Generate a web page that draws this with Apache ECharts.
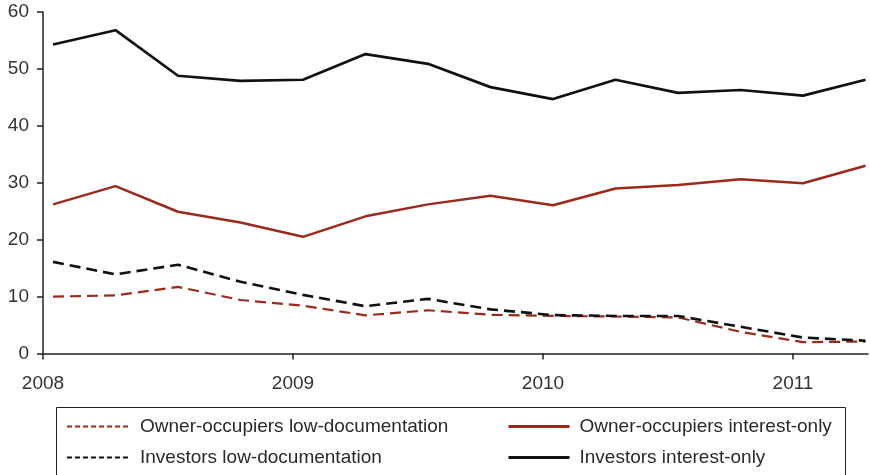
<!DOCTYPE html>
<html>
<head>
<meta charset="utf-8">
<script src="https://cdn.jsdelivr.net/npm/echarts@6/dist/echarts.min.js"></script>
<style>html,body{margin:0;padding:0;background:#fff}#c{width:870px;height:475px}</style>
</head>
<body>
<div id="c"></div>
<script>
// quarterly observation dates (decimal years)
var xYears = [2008.04, 2008.29, 2008.54, 2008.79, 2009.04, 2009.29, 2009.54, 2009.79, 2010.04, 2010.29, 2010.54, 2010.79, 2011.04, 2011.29];
var yearTicks = [2008, 2009, 2010, 2011];
var ownerLowDoc = [10.0, 10.2, 11.7, 9.4, 8.4, 6.7, 7.6, 6.8, 6.6, 6.5, 6.35, 3.8, 2.0, 2.1];
var ownerIO = [26.2, 29.4, 24.9, 23.0, 20.5, 24.1, 26.2, 27.7, 26.05, 29.0, 29.6, 30.6, 29.9, 33.0];
var investorLowDoc = [16.1, 13.9, 15.6, 12.6, 10.3, 8.3, 9.6, 7.75, 6.75, 6.6, 6.6, 4.7, 2.8, 2.25];
var investorIO = [54.3, 56.8, 48.8, 47.9, 48.1, 52.6, 50.9, 46.8, 44.7, 48.1, 45.8, 46.3, 45.3, 48.1];
var names = ['Owner-occupiers low-documentation', 'Owner-occupiers interest-only', 'Investors low-documentation', 'Investors interest-only'];

function pairs(arr) { return arr.map(function (v, i) { return [xYears[i], v]; }); }

var RED = '#9b2a1c', BLACK = '#111111';
var FONT = 'Liberation Sans, Arial, sans-serif';

var chart = echarts.init(document.getElementById('c'), null, { renderer: 'canvas' });
chart.setOption({
  animation: false,
  grid: { left: 43, right: 2, top: 12, bottom: 121.5, containLabel: false },
  xAxis: {
    type: 'value', min: 2008, max: 2011.3, interval: 1,
    axisLine: { show: true, lineStyle: { color: '#222', width: 1.5 } },
    axisTick: { show: true, inside: false, length: 6, lineStyle: { color: '#222', width: 1.5 }, customValues: yearTicks },
    axisLabel: { margin: 21, fontSize: 19, color: '#333', fontFamily: FONT, customValues: yearTicks,
      formatter: function (v) { return Number.isInteger(v) ? String(v) : ''; } },
    splitLine: { show: false }
  },
  yAxis: {
    type: 'value', min: 0, max: 60, interval: 10,
    axisLine: { show: true, lineStyle: { color: '#222', width: 1.5 } },
    axisTick: { show: true, inside: false, length: 6, lineStyle: { color: '#222', width: 1.5 } },
    axisLabel: { margin: 14, fontSize: 19, color: '#333', fontFamily: FONT },
    splitLine: { show: false }
  },
  legend: [
    {
      data: [names[0], names[2]], orient: 'vertical', left: 66, top: 417, padding: 0, itemGap: 12,
      itemWidth: 61, itemHeight: 14, itemStyle: { opacity: 0 },
      textStyle: { fontSize: 19, color: '#2a2a2a', fontFamily: FONT, padding: [0, 0, 0, 7] },
      lineStyle: { type: [5, 3], width: 2 }
    },
    {
      data: [names[1], names[3]], orient: 'vertical', left: 507, top: 417, padding: 0, itemGap: 12,
      itemWidth: 61, itemHeight: 14, itemStyle: { opacity: 0 },
      textStyle: { fontSize: 19, color: '#2a2a2a', fontFamily: FONT, padding: [0, 0, 0, 5] },
      lineStyle: { width: 3 }
    }
  ],
  graphic: [{
    type: 'rect', silent: true,
    shape: { x: 56.5, y: 407.5, width: 789, height: 90 },
    style: { fill: 'none', stroke: '#222', lineWidth: 1 }
  }],
  series: [
    { name: names[0], type: 'line', data: pairs(ownerLowDoc), symbol: 'none', color: RED,
      lineStyle: { color: RED, width: 2.2, type: [11, 6] } },
    { name: names[1], type: 'line', data: pairs(ownerIO), symbol: 'none', color: RED,
      lineStyle: { color: RED, width: 2.5 } },
    { name: names[2], type: 'line', data: pairs(investorLowDoc), symbol: 'none', color: BLACK,
      lineStyle: { color: BLACK, width: 2.6, type: [11, 6] } },
    { name: names[3], type: 'line', data: pairs(investorIO), symbol: 'none', color: BLACK,
      lineStyle: { color: BLACK, width: 2.7 } }
  ]
});
</script>
</body>
</html>
